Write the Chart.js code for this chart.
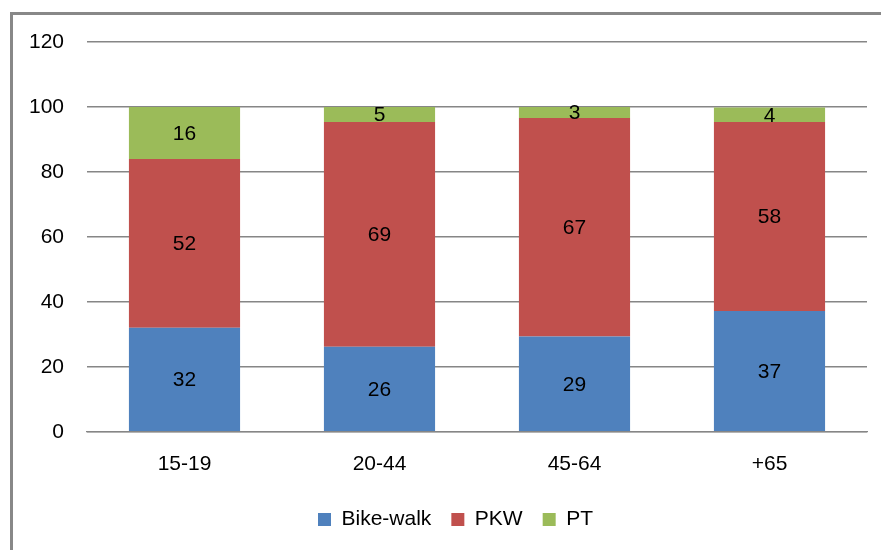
<!DOCTYPE html>
<html>
<head>
<meta charset="utf-8">
<script src="https://cdn.jsdelivr.net/npm/chart.js@4.4.1/dist/chart.umd.min.js"></script>
<style>
    html, body { margin: 0; padding: 0; background: #fff; }
    #wrap { position: relative; width: 881px; height: 550px; overflow: hidden; }
    #frame { position: absolute; left: 10px; top: 12px; width: 900px; height: 600px;
             border-top: 3px solid #888; border-left: 3px solid #888; }
    canvas { position: absolute; left: 0; top: 0; }
</style>
</head>
<body>
<div id="wrap">
    <div id="frame"></div>
    <canvas id="chart" width="881" height="550"></canvas>
</div>
<script>
// Data
const ageGroups = ['15-19', '20-44', '45-64', '+65'];
const bikeWalk = [32, 26.2, 29.3, 37.2];
const pkw = [52, 69.2, 67.3, 58.2];
const pt = [16, 4.6, 3.4, 4.4];
const yTicks = [0, 20, 40, 60, 80, 100, 120];

const FONT = '"Liberation Sans", "DejaVu Sans", sans-serif';

// Draws the rounded value in the middle of each bar segment
const barLabels = {
    id: 'barLabels',
    afterDatasetsDraw(chart) {
        const ctx = chart.ctx;
        ctx.save();
        ctx.fillStyle = '#000';
        ctx.font = '21px ' + FONT;
        ctx.textAlign = 'center';
        ctx.textBaseline = 'middle';
        chart.data.datasets.forEach((ds, i) => {
            chart.getDatasetMeta(i).data.forEach((bar, j) => {
                const mid = (bar.y + bar.base) / 2;
                ctx.fillText(Math.round(ds.data[j]), bar.x, mid + 1);
            });
        });
        ctx.restore();
    }
};

// The legend sits a bit right of centre in the original
const legendShift = {
    id: 'legendShift',
    afterLayout(chart) {
        chart.legend.left += 22;
        chart.legend.right += 22;
    }
};

Chart.defaults.font.family = FONT;
Chart.defaults.color = '#000';

new Chart(document.getElementById('chart').getContext('2d'), {
    type: 'bar',
    data: {
        labels: ageGroups,
        datasets: [
            { label: 'Bike-walk', data: bikeWalk, backgroundColor: '#4F81BD' },
            { label: 'PKW', data: pkw, backgroundColor: '#C0504D' },
            { label: 'PT', data: pt, backgroundColor: '#9BBB59' }
        ]
    },
    options: {
        responsive: false,
        animation: false,
        devicePixelRatio: 1,
        layout: { padding: { top: 42, right: 14, bottom: 10, left: 0 } },
        datasets: { bar: { categoryPercentage: 1, barPercentage: 0.57 } },
        scales: {
            x: {
                stacked: true,
                grid: { display: false },
                border: { display: true, color: '#868686', width: 1.2 },
                ticks: { font: { size: 21 }, padding: 12 }
            },
            y: {
                stacked: true,
                min: 0,
                max: 120,
                afterFit(axis) { axis.width = 87; },
                afterBuildTicks(axis) { axis.ticks = yTicks.map(v => ({ value: v })); },
                grid: { color: '#868686', lineWidth: 1.5, drawTicks: false },
                border: { display: false },
                ticks: { font: { size: 21 }, padding: 23 }
            }
        },
        plugins: {
            legend: {
                position: 'bottom',
                labels: { boxWidth: 13, boxHeight: 13, padding: 20, font: { size: 21 } }
            },
            tooltip: { enabled: false }
        }
    },
    plugins: [barLabels, legendShift]
});
</script>
</body>
</html>
